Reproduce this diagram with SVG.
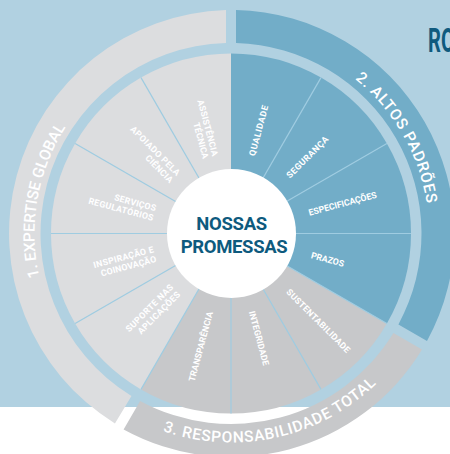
<svg xmlns="http://www.w3.org/2000/svg" width="450" height="454" viewBox="0 0 450 454">
<style>
.lbl{font-family:Roboto,"Liberation Sans",sans-serif;font-weight:700;font-size:8.8px;fill:#ffffff;}
.st{text-anchor:start;}
.en{text-anchor:end;}
.band{font-family:Roboto,"Liberation Sans",sans-serif;font-weight:500;font-size:15.5px;fill:#ffffff;}
.sep{stroke:#9fcce1;stroke-width:1.2;fill:none;}
.ctr{font-family:Roboto,"Liberation Sans",sans-serif;font-weight:700;font-size:18.5px;fill:#0e5a7e;text-anchor:middle;}
.lg{fill:#dcdddf;}
.bl{fill:#72adc8;}
.gr{fill:#c7c8ca;}
</style>
<defs>
<path id="arc1" d="M80.47 359.81 A196.5 196.5 0 0 1 132.75 63.33"/>
<path id="arc2" d="M265.38 38.51 A198 198 0 0 1 417.06 301.22"/>
<path id="arc3" d="M70.9 367.84 A209 209 0 0 0 432.88 287.59"/>
</defs>
<rect x="0" y="0" width="450" height="407" fill="#b1d1e1"/>

<g id="band-expertise">
<path class="lg" d="M131.453 395.921 L114.948 423.511 A223.5 223.5 0 0 1 226 10.056 L226 43.066 A190.5 190.5 0 0 0 131.453 395.921 Z"/>
<text class="band"><textPath href="#arc1" startOffset="50%" text-anchor="middle" textLength="156">1. EXPERTISE GLOBAL</textPath></text>
</g>
<g id="band-altos">
<path class="bl" d="M236 43.066 L236 10.056 A223.5 223.5 0 0 1 427.011 340.892 L398.421 324.387 A190.5 190.5 0 0 0 236 43.066 Z"/>
<text class="band"><textPath href="#arc2" startOffset="50%" text-anchor="middle" textLength="147">2. ALTOS PADRÕES</textPath></text>
</g>
<g id="band-responsabilidade">
<path class="gr" d="M393.421 333.047 L422.011 349.552 A223.5 223.5 0 0 1 123.608 429.511 L140.113 400.921 A190.5 190.5 0 0 0 393.421 333.047 Z"/>
<text class="band"><textPath href="#arc3" startOffset="50%" text-anchor="middle" textLength="230">3. RESPONSABILIDADE TOTAL</textPath></text>
</g>

<g id="seg-qualidade">
<path class="bl" d="M231 233.5 L231 53.5 A180 180 0 0 1 321 77.615 Z"/>
<text class="lbl st" transform="translate(251.84,155.74) rotate(-75)" x="0" y="3.1" textLength="52">QUALIDADE</text>
</g>
<g id="seg-seguranca">
<path class="bl" d="M231 233.5 L321 77.615 A180 180 0 0 1 386.885 143.5 Z"/>
<text class="lbl st" transform="translate(287.92,176.58) rotate(-45)" x="0" y="3.1" textLength="55">SEGURANÇA</text>
</g>
<g id="seg-especificacoes">
<path class="bl" d="M231 233.5 L386.885 143.5 A180 180 0 0 1 411 233.5 Z"/>
<text class="lbl st" transform="translate(308.76,212.67) rotate(-15)" x="0" y="3.1" textLength="70">ESPECIFICAÇÕES</text>
</g>
<g id="seg-prazos">
<path class="bl" d="M231 233.5 L411 233.5 A180 180 0 0 1 386.885 323.5 Z"/>
<text class="lbl st" transform="translate(311.2,255.0) rotate(15)" x="0" y="3.1" textLength="34">PRAZOS</text>
</g>
<g id="seg-sustentabilidade">
<path class="gr" d="M231 233.5 L386.885 323.5 A180 180 0 0 1 321 389.385 Z"/>
<text class="lbl st" transform="translate(287.92,290.42) rotate(45)" x="0" y="3.1" textLength="86">SUSTENTABILIDADE</text>
</g>
<g id="seg-integridade">
<path class="gr" d="M231 233.5 L321 389.385 A180 180 0 0 1 231 413.5 Z"/>
<text class="lbl st" transform="translate(251.84,311.26) rotate(75)" x="0" y="3.1" textLength="56">INTEGRIDADE</text>
</g>
<g id="seg-transparencia">
<path class="gr" d="M231 233.5 L231 413.5 A180 180 0 0 1 141 389.385 Z"/>
<text class="lbl en" transform="translate(210.04,311.74) rotate(-75)" x="0" y="3.1" textLength="72">TRANSPARÊNCIA</text>
</g>
<g id="seg-suporte">
<path class="lg" d="M231 233.5 L141 389.385 A180 180 0 0 1 75.115 323.5 Z"/>
<g transform="translate(175.14,289.36) rotate(-45)">
<text class="lbl en" x="0" y="-1.9" textLength="63">SUPORTE NAS</text>
<text class="lbl en" x="0" y="8.1" textLength="56">APLICAÇÕES</text>
</g>
</g>
<g id="seg-inspiracao">
<path class="lg" d="M231 233.5 L75.115 323.5 A180 180 0 0 1 51 233.5 Z"/>
<g transform="translate(154.69,253.95) rotate(-15)">
<text class="lbl en" x="0" y="-1.9" textLength="62">INSPIRAÇÃO E</text>
<text class="lbl en" x="0" y="8.1" textLength="57">COINOVAÇÃO</text>
</g>
</g>
<g id="seg-servicos">
<path class="lg" d="M231 233.5 L51 233.5 A180 180 0 0 1 75.115 143.5 Z"/>
<g transform="translate(154.69,213.05) rotate(15)">
<text class="lbl en" x="0" y="-1.9" textLength="43">SERVIÇOS</text>
<text class="lbl en" x="0" y="8.1" textLength="67">REGULATÓRIOS</text>
</g>
</g>
<g id="seg-apoiado">
<path class="lg" d="M231 233.5 L75.115 143.5 A180 180 0 0 1 141 77.615 Z"/>
<g transform="translate(175.14,177.64) rotate(45)">
<text class="lbl en" x="0" y="-1.9" textLength="66">APOIADO PELA</text>
<text class="lbl en" x="0" y="8.1" textLength="35">CIÊNCIA</text>
</g>
</g>
<g id="seg-assistencia">
<path class="lg" d="M231 233.5 L141 77.615 A180 180 0 0 1 231 53.5 Z"/>
<g transform="translate(210.55,157.19) rotate(75)">
<text class="lbl en" x="0" y="-1.9" textLength="58">ASSISTÊNCIA</text>
<text class="lbl en" x="0" y="8.1" textLength="37">TÉCNICA</text>
</g>
</g>

<g id="dividers">
<line class="sep" x1="231" y1="233.5" x2="321" y2="77.615"/>
<line class="sep" x1="231" y1="233.5" x2="386.885" y2="143.5"/>
<line class="sep" x1="231" y1="233.5" x2="411" y2="233.5"/>
<line class="sep" x1="231" y1="233.5" x2="386.885" y2="323.5"/>
<line class="sep" x1="231" y1="233.5" x2="321" y2="389.385"/>
<line class="sep" x1="231" y1="233.5" x2="231" y2="413.5"/>
<line class="sep" x1="231" y1="233.5" x2="141" y2="389.385"/>
<line class="sep" x1="231" y1="233.5" x2="75.115" y2="323.5"/>
<line class="sep" x1="231" y1="233.5" x2="51" y2="233.5"/>
<line class="sep" x1="231" y1="233.5" x2="75.115" y2="143.5"/>
<line class="sep" x1="231" y1="233.5" x2="141" y2="77.615"/>
</g>

<g id="center">
<circle cx="231.5" cy="233.5" r="64.5" fill="#ffffff"/>
<text class="ctr" x="231.7" y="229.5" textLength="71">NOSSAS</text>
<text class="ctr" x="234.2" y="252.7" textLength="107">PROMESSAS</text>
</g>

<g id="title">
<text transform="translate(428,51.5) scale(0.62,1)" x="0" y="0" font-family="Roboto, 'Liberation Sans', sans-serif" font-weight="700" font-size="32.5" fill="#0f5a7e">RO</text>
</g>
</svg>
